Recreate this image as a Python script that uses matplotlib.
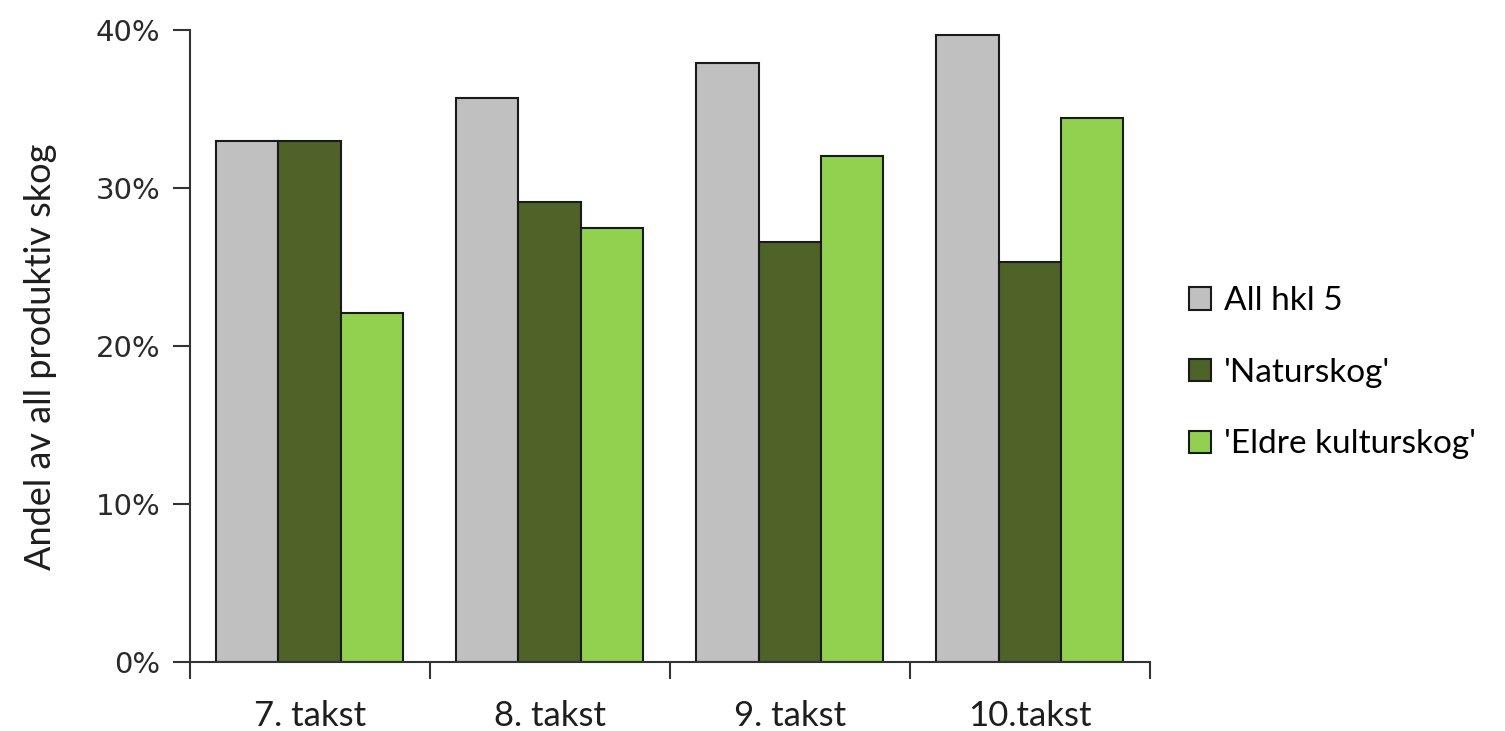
import numpy as np
import matplotlib.pyplot as plt
from matplotlib.ticker import FixedLocator, PercentFormatter

# data
categories = ['7. takst', '8. takst', '9. takst', '10.takst']
series_names = ['All hkl 5', "'Naturskog'", "'Eldre kulturskog'"]
all_hkl5 = [33.0, 35.7, 37.9, 39.7]
naturskog = [33.0, 29.1, 26.6, 25.3]
eldre_kulturskog = [22.1, 27.5, 32.0, 34.4]

colors = ['#c0c0c0', '#4f6228', '#92d050']

fig = plt.figure(figsize=(15.05, 7.31), dpi=100)
ax = fig.add_axes([0.126, 0.094, 0.638, 0.865])

x = np.arange(len(categories))
w = 0.26
for i, (vals, name) in enumerate(zip([all_hkl5, naturskog, eldre_kulturskog], series_names)):
    ax.bar(x + (i - 1) * w, vals, w, color=colors[i], edgecolor='#1a1a1a',
           linewidth=1.5, label=name, zorder=2)

ax.set_xlim(-0.5, len(categories) - 0.5)
ax.set_ylim(0, 40)
ax.set_yticks([0, 10, 20, 30, 40])
ax.yaxis.set_major_formatter(PercentFormatter(decimals=0))
ax.set_xticks(x)
ax.set_xticklabels(categories, fontsize=25, family='Lato', color='#1e1e1e')
ax.xaxis.set_minor_locator(FixedLocator(np.arange(-0.5, len(categories), 1)))
ax.tick_params(axis='x', which='major', length=0, pad=27)
ax.tick_params(axis='x', which='minor', length=12, width=1.5, color='#333333')
ax.tick_params(axis='y', length=12, width=1.5, color='#333333', labelsize=21,
               labelcolor='#2a2a2a', pad=9)
for lab in ax.get_yticklabels():
    lab.set_family('DejaVu Sans')

for s in ['top', 'right']:
    ax.spines[s].set_visible(False)
for s in ['left', 'bottom']:
    ax.spines[s].set_linewidth(1.5)
    ax.spines[s].set_color('#333333')

fig.text(0.027, 0.512, 'Andel av all produktiv skog', rotation=90, fontsize=26,
         family='Lato', color='#1e1e1e', ha='center', va='center')

fig.legend(loc='center left', bbox_to_anchor=(0.77, 0.49), frameon=False,
           prop={'family': 'Lato', 'size': 24}, labelspacing=1.25,
           handlelength=0.66, handleheight=0.66, handletextpad=0.4)

fig.savefig('out.png', dpi=100)
